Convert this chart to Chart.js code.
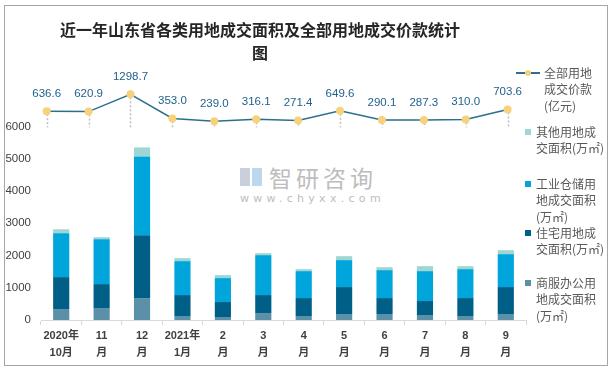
<!DOCTYPE html>
<html>
<head>
<meta charset="utf-8">
<script src="https://cdn.jsdelivr.net/npm/chart.js@4"></script>
<style>
body { margin: 0; background: #fff; }
#wrap { position: relative; width: 615px; height: 371px; font-family: "Noto Sans CJK SC", sans-serif; }
#frame { position: absolute; left: 4px; top: 5px; width: 604px; height: 361px; border: 1px solid #a6a6a6; box-sizing: border-box; }
#title { position: absolute; left: 40px; top: 18px; width: 440px; text-align: center; font-size: 16px; font-weight: bold; line-height: 23px; color: #262626; }
#chart { position: absolute; left: 0; top: 0; }
.leg { position: absolute; font-size: 12px; line-height: 16.5px; color: #595959; white-space: nowrap; }
.sq { position: absolute; width: 6px; height: 6px; }
#wm1 { position: absolute; left: 269px; top: 166px; font-size: 23px; line-height: 23px; color: #bdbdbd; letter-spacing: 4px; }
#wm2 { position: absolute; left: 240px; top: 193px; font-size: 11px; line-height: 11px; color: #bdbdbd; letter-spacing: 4.3px; font-family: "DejaVu Sans", sans-serif; }
#wmIconA { position: absolute; left: 240px; top: 168px; width: 10px; height: 18px; background: #c9cfdc; }
#wmIconB { position: absolute; left: 252px; top: 168px; width: 10px; height: 18px; background: #bcd8ee; }
</style>
</head>
<body>
<div id="wrap">
  <div id="wmIconA"></div>
  <div id="wmIconB"></div>
  <div id="wm1">智研咨询</div>
  <div id="wm2">www.chyxx.com</div>
  <canvas id="chart" width="615" height="371"></canvas>
  <div id="frame"></div>
  <div id="title">近一年山东省各类用地成交面积及全部用地成交价款统计<br>图</div>
  <div id="legend"></div>
</div>
<script>
// Data
const months = [['2020年', '10月'], ['11', '月'], ['12', '月'], ['2021年', '1月'], ['2', '月'], ['3', '月'],
                ['4', '月'], ['5', '月'], ['6', '月'], ['7', '月'], ['8', '月'], ['9', '月']];
const shangfu = [340, 371, 680, 124, 93, 216, 124, 186, 186, 155, 124, 186];      // 商服办公用地成交面积(万㎡)
const zhuzhai = [990, 742, 1949, 649, 464, 557, 556, 835, 494, 433, 556, 835];    // 住宅用地成交面积(万㎡)
const gongye = [1361, 1392, 2443, 1052, 742, 1237, 835, 835, 866, 927, 897, 1020]; // 工业仓储用地成交面积(万㎡)
const qita = [123, 62, 279, 93, 93, 62, 62, 123, 93, 155, 93, 124];               // 其他用地成交面积(万㎡)
const price = [636.6, 620.9, 1298.7, 353.0, 239.0, 316.1, 271.4, 649.6, 290.1, 287.3, 310.0, 703.6]; // 全部用地成交价款(亿元)
const yTicks = [0, 1000, 2000, 3000, 4000, 5000, 6000];

const colors = {
    shangfu: '#5b90a8',
    zhuzhai: '#005f86',
    gongye: '#00a5dc',
    qita: '#9fd6d3',
    line: '#2a6f8e',
    point: '#f7d27a',
    label: '#22628c'
};

// Legend (drawn as html so the wrapped text stays readable)
const legendItems = [
    { lines: ['全部用地', '成交价款', '(亿元)'], y: 73, kind: 'line' },
    { lines: ['其他用地成', '交面积(万㎡)'], y: 132, color: colors.qita },
    { lines: ['工业仓储用', '地成交面积', '(万㎡)'], y: 184, color: colors.gongye },
    { lines: ['住宅用地成', '交面积(万㎡)'], y: 233, color: colors.zhuzhai },
    { lines: ['商服办公用', '地成交面积', '(万㎡)'], y: 283, color: colors.shangfu }
];
const legend = document.getElementById('legend');
legendItems.forEach(item => {
    const t = document.createElement('div');
    t.className = 'leg';
    t.innerHTML = item.lines.join('<br>');
    t.style.top = (item.y - 8.25) + 'px';
    if (item.kind === 'line') {
        t.style.left = '544px';
        const ln = document.createElement('div');
        ln.style.cssText = 'position:absolute;left:516px;width:24px;height:1.5px;background:' + colors.line + ';top:' + (item.y - 0.75) + 'px';
        const dot = document.createElement('div');
        dot.style.cssText = 'position:absolute;left:525px;width:6px;height:6px;border-radius:3px;background:' + colors.point + ';top:' + (item.y - 3) + 'px';
        legend.appendChild(ln);
        legend.appendChild(dot);
    } else {
        t.style.left = '536px';
        const sq = document.createElement('div');
        sq.className = 'sq';
        sq.style.left = '525px';
        sq.style.top = (item.y - 3) + 'px';
        sq.style.background = item.color;
        legend.appendChild(sq);
    }
    legend.appendChild(t);
});

// Drop lines and value labels for the price line
const priceDecor = {
    id: 'priceDecor',
    beforeDatasetsDraw(chart) {
        const meta = chart.getDatasetMeta(4);
        const base = chart.scales.y1.getPixelForValue(0);
        const ctx = chart.ctx;
        ctx.save();
        ctx.strokeStyle = '#bfbfbf';
        ctx.lineWidth = 1.5;
        ctx.setLineDash([2, 2]);
        meta.data.forEach(pt => {
            ctx.beginPath();
            ctx.moveTo(Math.round(pt.x) + 0.5, pt.y + 3);
            ctx.lineTo(Math.round(pt.x) + 0.5, base);
            ctx.stroke();
        });
        ctx.restore();
    },
    afterDatasetsDraw(chart) {
        const meta = chart.getDatasetMeta(4);
        const ctx = chart.ctx;
        ctx.save();
        ctx.fillStyle = colors.label;
        ctx.font = '11.5px "Liberation Sans", sans-serif';
        ctx.textAlign = 'center';
        ctx.textBaseline = 'middle';
        meta.data.forEach((pt, i) => {
            ctx.fillText(price[i].toFixed(1), pt.x, pt.y - 17.5);
        });
        ctx.restore();
    }
};

const ctx = document.getElementById('chart').getContext('2d');
const myChart = new Chart(ctx, {
    type: 'bar',
    data: {
        labels: months,
        datasets: [
            { label: '商服办公用地成交面积(万㎡)', data: shangfu, backgroundColor: colors.shangfu, stack: 'area', order: 1 },
            { label: '住宅用地成交面积(万㎡)', data: zhuzhai, backgroundColor: colors.zhuzhai, stack: 'area', order: 1 },
            { label: '工业仓储用地成交面积(万㎡)', data: gongye, backgroundColor: colors.gongye, stack: 'area', order: 1 },
            { label: '其他用地成交面积(万㎡)', data: qita, backgroundColor: colors.qita, stack: 'area', order: 1 },
            {
                type: 'line',
                label: '全部用地成交价款(亿元)',
                data: price.map((v, i) => ({ x: i, y: v })),
                xAxisID: 'x2',
                yAxisID: 'y1',
                borderColor: colors.line,
                borderWidth: 1.5,
                pointRadius: 4,
                pointBackgroundColor: colors.point,
                pointBorderColor: colors.point,
                pointBorderWidth: 0,
                order: 0
            }
        ]
    },
    options: {
        responsive: false,
        animation: false,
        devicePixelRatio: 1,
        layout: { padding: { top: 70, right: 89, bottom: 11, left: 0 } },
        datasets: { bar: { barPercentage: 0.4, categoryPercentage: 1, grouped: false } },
        plugins: { legend: { display: false }, tooltip: { enabled: false } },
        scales: {
            x: {
                stacked: true,
                grid: { display: true, drawOnChartArea: false, drawTicks: true, tickLength: 5, color: '#d9d9d9' },
                border: { color: '#d9d9d9' },
                ticks: {
                    autoSkip: false,
                    maxRotation: 0,
                    padding: 3,
                    color: '#404040',
                    font: { family: '"Liberation Sans", "Noto Sans CJK SC", sans-serif', size: 11, weight: 'bold', lineHeight: 1.5 }
                },
                afterFit: s => { s.height = 40; }
            },
            x2: { type: 'linear', display: false, offset: false, min: -0.136, max: 11.439 },
            y: {
                stacked: true,
                min: 0,
                max: 7752,
                grid: { display: false, drawTicks: false },
                border: { display: false },
                afterBuildTicks: s => { s.ticks = yTicks.map(v => ({ value: v })); },
                ticks: {
                    padding: 10,
                    color: '#404040',
                    callback: v => String(v),
                    font: { family: '"Liberation Sans", sans-serif', size: 11.5 }
                },
                afterFit: s => { s.width = 41; }
            },
            y1: { display: false, min: -7560, max: 2253 }
        }
    },
    plugins: [priceDecor]
});
</script>
</body>
</html>
